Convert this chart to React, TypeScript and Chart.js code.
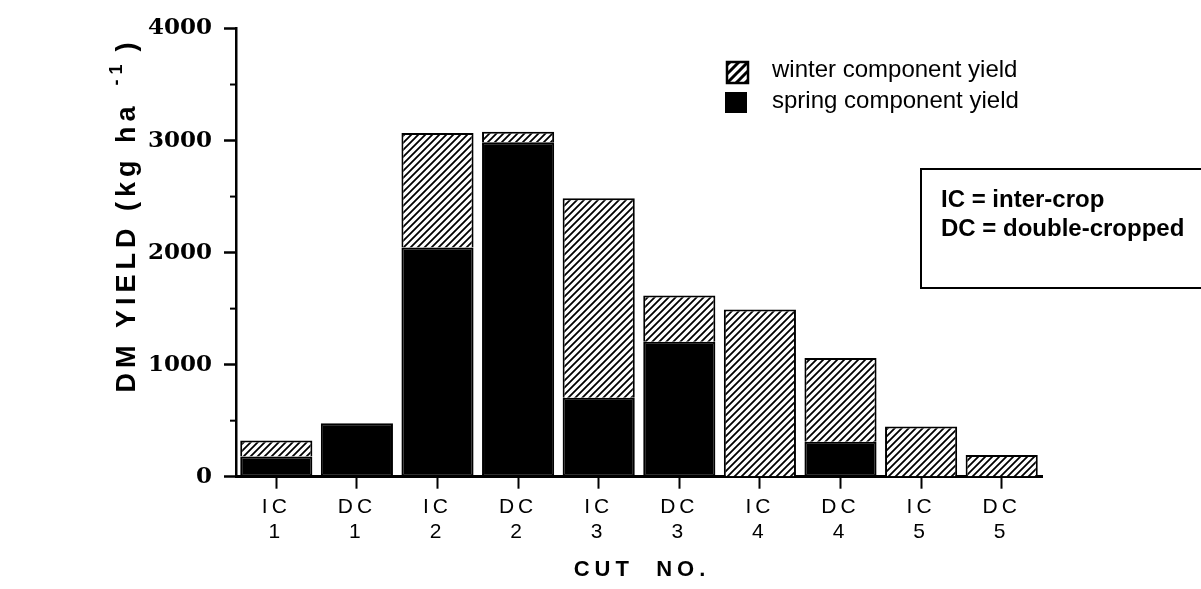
import React, { useEffect, useRef } from "react";
import { Chart, registerables } from "chart.js";

Chart.register(...registerables);

// ---- data ----
const cropType = ["IC", "DC", "IC", "DC", "IC", "DC", "IC", "DC", "IC", "DC"];
const cutNumber = ["1", "1", "2", "2", "3", "3", "4", "4", "5", "5"];
const springYield = [180, 478, 2045, 2985, 705, 1205, 0, 313, 0, 0];
const winterYield = [142, 0, 1023, 93, 1781, 413, 1492, 747, 448, 194];
const yMinorTicks = [500, 1500, 2500, 3500];
const legendLabels = ["winter component yield", "spring component yield"];
const noteLines = ["IC = inter-crop", "DC = double-cropped"];
const xTitle = "CUT  NO.";
const yTitleMain = "DM YIELD (kg ha";
const yTitleSup = "-1";
const yTitleEnd = ")";

function makeHatch(size: number, lw: number): CanvasPattern | string {
  const c = document.createElement("canvas");
  c.width = size;
  c.height = size;
  const g = c.getContext("2d");
  if (!g) return "#fff";
  g.fillStyle = "#fff";
  g.fillRect(0, 0, size, size);
  g.strokeStyle = "#000";
  g.lineWidth = lw;
  g.beginPath();
  g.moveTo(-1, size + 1);
  g.lineTo(size + 1, -1);
  g.moveTo(-2, 2);
  g.lineTo(2, -2);
  g.moveTo(size - 2, size + 2);
  g.lineTo(size + 2, size - 2);
  g.stroke();
  return g.createPattern(c, "repeat") || "#fff";
}

export default function App() {
  const ref = useRef<HTMLCanvasElement | null>(null);

  useEffect(() => {
    document.body.style.margin = "0";
    const canvas = ref.current;
    if (!canvas) return;
    const hatch = makeHatch(7, 1.8);
    const legendHatch = makeHatch(9, 3);

    const decor = {
      id: "decor",
      beforeDraw(chart: any) {
        // letter-spaced x tick labels (drawn at z=0, before datasets)
        (chart.ctx as any).letterSpacing = "4px";
      },
      beforeDatasetsDraw(chart: any) {
        (chart.ctx as any).letterSpacing = "0px";
      },
      afterDraw(chart: any) {
        const ctx = chart.ctx as CanvasRenderingContext2D;
        const ys = chart.scales.y;
        const xs = chart.scales.x;
        const area = chart.chartArea;
        ctx.save();
        (ctx as any).letterSpacing = "0px";
        // minor ticks on y axis
        ctx.strokeStyle = "#000";
        ctx.lineWidth = 2;
        yMinorTicks.forEach((v) => {
          const y = ys.getPixelForValue(v);
          ctx.beginPath();
          ctx.moveTo(area.left - 6, y);
          ctx.lineTo(area.left, y);
          ctx.stroke();
        });

        // y title (rotated)
        ctx.save();
        ctx.translate(128, 215);
        ctx.rotate(-Math.PI / 2);
        ctx.fillStyle = "#000";
        (ctx as any).letterSpacing = "5px";
        const big = "bold 27px 'Liberation Sans', Arial, sans-serif";
        const small = "bold 18px 'Liberation Sans', Arial, sans-serif";
        ctx.textBaseline = "middle";
        ctx.font = big;
        const mainW = ctx.measureText(yTitleMain).width;
        const endW = ctx.measureText(yTitleEnd).width;
        ctx.font = small;
        const supW = ctx.measureText(yTitleSup).width;
        const gap = 16;
        const total = mainW + gap + supW + 8 + endW;
        let x0 = -total / 2;
        ctx.textAlign = "left";
        ctx.font = big;
        ctx.fillText(yTitleMain, x0, 0);
        x0 += mainW + gap;
        ctx.font = small;
        ctx.fillText(yTitleSup, x0, -11);
        x0 += supW + 8;
        ctx.font = big;
        ctx.fillText(yTitleEnd, x0, 0);
        ctx.restore();

        // x title
        ctx.save();
        ctx.fillStyle = "#000";
        (ctx as any).letterSpacing = "5px";
        ctx.font = "bold 22px 'Liberation Sans', Arial, sans-serif";
        ctx.textAlign = "center";
        ctx.textBaseline = "middle";
        ctx.fillText(xTitle, (xs.left + xs.right) / 2 + 3, 570);
        ctx.restore();

        // legend
        ctx.save();
        ctx.fillStyle = legendHatch as any;
        ctx.fillRect(727, 62, 21, 21);
        ctx.lineWidth = 2.5;
        ctx.strokeStyle = "#000";
        ctx.strokeRect(727, 62, 21, 21);
        ctx.fillStyle = "#000";
        ctx.fillRect(725, 92, 22, 21);
        ctx.font = "24px 'Liberation Sans', Arial, sans-serif";
        ctx.textAlign = "left";
        ctx.textBaseline = "middle";
        ctx.fillText(legendLabels[0], 772, 70);
        ctx.fillText(legendLabels[1], 772, 101);
        ctx.restore();

        // note box
        ctx.save();
        ctx.fillStyle = "#fff";
        ctx.fillRect(920, 169, 290, 119);
        ctx.strokeStyle = "#000";
        ctx.lineWidth = 2;
        ctx.strokeRect(921, 169, 290, 119);
        ctx.fillStyle = "#000";
        ctx.font = "bold 24px 'Liberation Sans', Arial, sans-serif";
        ctx.textAlign = "left";
        ctx.textBaseline = "alphabetic";
        ctx.fillText(noteLines[0], 941, 207);
        ctx.fillText(noteLines[1], 941, 236);
        ctx.restore();

        ctx.restore();
      },
    };

    const chart = new Chart(canvas, {
      type: "bar",
      data: {
        labels: cropType.map((t, i) => [t, cutNumber[i]]),
        datasets: [
          {
            label: legendLabels[1],
            data: springYield,
            backgroundColor: "#000",
            borderColor: "#000",
            borderWidth: 2,
            borderSkipped: false,
            categoryPercentage: 1,
            barPercentage: 0.895,
          },
          {
            label: legendLabels[0],
            data: winterYield,
            backgroundColor: hatch as any,
            borderColor: "#000",
            borderWidth: 2,
            borderSkipped: "start",
            categoryPercentage: 1,
            barPercentage: 0.895,
          },
        ],
      },
      options: {
        responsive: false,
        animation: false,
        devicePixelRatio: 1,
        layout: { padding: { top: 28.5, right: 159, left: 0, bottom: 0 } },
        plugins: { legend: { display: false }, tooltip: { enabled: false } },
        scales: {
          x: {
            stacked: true,
            offset: true,
            grid: {
              offset: false,
              drawOnChartArea: false,
              drawTicks: true,
              tickLength: 12,
              tickWidth: 2,
              tickColor: "#000",
            },
            border: { display: true, color: "#000", width: 3 },
            ticks: {
              color: "#000",
              padding: 6,
              maxRotation: 0,
              font: { family: "'Liberation Sans', Arial, sans-serif", size: 21, lineHeight: 1.2 },
            },
            afterFit(scale: any) {
              scale.height = 112.3;
            },
          },
          y: {
            stacked: true,
            min: 0,
            max: 4000,
            grid: {
              drawOnChartArea: false,
              drawTicks: true,
              tickLength: 12,
              tickWidth: 2.5,
              tickColor: "#000",
            },
            border: { display: true, color: "#000", width: 2.5 },
            ticks: {
              z: 1,
              stepSize: 1000,
              color: "#000",
              padding: 12,
              callback: (v: any) => String(v),
              font: { family: "'DejaVu Serif', serif", size: 23, weight: "bold" },
            },
            afterFit(scale: any) {
              scale.width = 236;
            },
          },
        },
      },
      plugins: [decor],
    });
    return () => chart.destroy();
  }, []);

  return (
    <div style={{ width: 1201, height: 589, background: "#fff" }}>
      <canvas ref={ref} width={1201} height={589} style={{ display: "block" }} />
    </div>
  );
}
